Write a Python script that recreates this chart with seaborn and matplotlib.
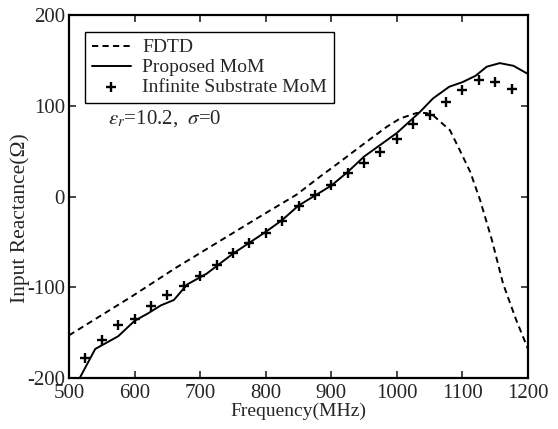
import numpy as np
import pandas as pd
import matplotlib
matplotlib.use("Agg")
import matplotlib.pyplot as plt
import seaborn as sns

# Data
fdtd_freq = [500, 596, 662, 746, 796, 847, 883, 913, 944, 985, 1005, 1030, 1045,
             1056, 1081, 1096, 1112, 1127, 1145, 1162, 1182, 1200]
fdtd_x = [-153, -110, -79, -42, -20, 2, 22, 38, 55, 77, 86, 92, 92,
          89, 73, 51, 27, -4, -48, -96, -136, -168]

mom_freq = [500, 540, 575, 600, 620, 640, 660, 680, 710, 750, 775, 800, 825, 850,
            875, 900, 925, 950, 975, 1000, 1035, 1055, 1080, 1100, 1120, 1137,
            1157, 1178, 1200]
mom_x = [-222, -168, -154, -137, -129, -120, -114, -97, -85, -63, -51, -39, -26, -10,
         1, 12, 27, 44, 57, 70, 93, 108, 121, 126, 133, 143,
         147, 144, 135]

inf_freq = [525, 550, 575, 600, 625, 650, 675, 700, 725, 750, 775, 800, 825, 850,
            875, 900, 925, 950, 975, 1000, 1025, 1050, 1075, 1100, 1125, 1150, 1175]
inf_x = [-178, -158, -142, -135, -121, -109, -99, -88, -76, -62, -51, -40, -27, -11,
         2, 13, 26, 37, 49, 63, 80, 90, 104, 117, 128, 126, 118]

sns.set_style("ticks")
plt.rcParams['font.family'] = ['Liberation Serif', 'DejaVu Serif']
plt.rcParams['mathtext.fontset'] = 'stix'
plt.rcParams['axes.unicode_minus'] = False

fig = plt.figure(figsize=(5.58, 4.29), dpi=100)
ax = fig.add_axes([0.1237, 0.1189, 0.8225, 0.8461])

fdtd_df = pd.DataFrame({'f': fdtd_freq, 'x': fdtd_x})
mom_df = pd.DataFrame({'f': mom_freq, 'x': mom_x})
inf_df = pd.DataFrame({'f': inf_freq, 'x': inf_x})

sns.lineplot(data=fdtd_df, x='f', y='x', ax=ax, color='black', lw=1.4,
             label='FDTD', sort=False)
ax.lines[-1].set_dashes((3.2, 2.2))
sns.lineplot(data=mom_df, x='f', y='x', ax=ax, color='black', lw=1.4,
             label='Proposed MoM', sort=False)
sns.scatterplot(data=inf_df, x='f', y='x', ax=ax, marker='+', color='black',
                s=60, linewidth=1.7, label='Infinite Substrate MoM')

ax.set_xlim(500, 1200)
ax.set_ylim(-200, 200)
ax.set_xticks(np.arange(500, 1201, 100))
ax.set_yticks(np.arange(-200, 201, 100))
ax.tick_params(direction='in', top=True, right=True, length=5, width=1.2,
               labelsize=15)
ax.tick_params(axis='x', pad=4)
ax.tick_params(axis='y', pad=3)
for sp in ax.spines.values():
    sp.set_linewidth(1.6)
    sp.set_color('black')

ax.set_xlabel('Frequency(MHz)', fontsize=14, labelpad=0)
ax.set_ylabel('Input Reactance(Ω)', fontsize=15.5)
ax.yaxis.set_label_coords(-0.086, 0.44)

# annotation: material parameters
ax.text(559, 86, r'$\varepsilon_r$=10.2,  $\sigma$=0', fontsize=15,
        ha='left', va='center')

leg = ax.legend(loc='upper left', bbox_to_anchor=(0.035, 0.953), borderaxespad=0,
                fontsize=14, frameon=True, fancybox=False, edgecolor='black',
                handlelength=2.0, labelspacing=0.12, borderpad=0.35,
                handletextpad=0.6)
leg.get_frame().set_linewidth(1.0)
leg.get_frame().set_alpha(1)

fig.savefig('out.png', dpi=100)
